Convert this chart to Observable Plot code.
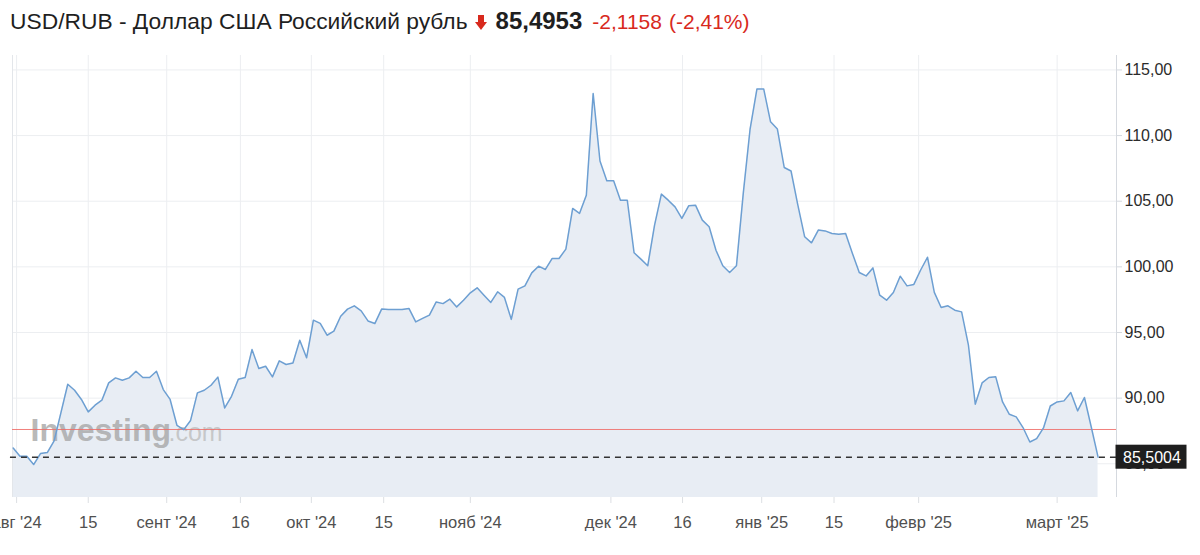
<!DOCTYPE html>
<html>
<head>
<meta charset="utf-8">
<script src="https://cdn.jsdelivr.net/npm/d3@7"></script>
<script src="https://cdn.jsdelivr.net/npm/@observablehq/plot@0.6"></script>
<style>
  html, body { margin: 0; padding: 0; background: #fff; }
  body { width: 1200px; height: 555px; overflow: hidden; font-family: "Liberation Sans", Arial, sans-serif; }
  #title { height: 40px; display: flex; align-items: baseline; padding-left: 10px; box-sizing: border-box; padding-top: 7px; color: #1f1f1f; white-space: nowrap; }
  #title .name { font-size: 22.8px; margin-right: 7px; }
  #title .arrow { margin-right: 9px; position: relative; top: 1px; }
  #title .price { font-size: 24px; font-weight: bold; margin-right: 10px; }
  #title .chg { font-size: 21px; color: #d8291d; margin-right: 7px; }
  #chart svg { display: block; }
</style>
</head>
<body>
<div id="title"></div>
<div id="chart"></div>
<script>
// ---- data ----
const titleText = "USD/RUB - Доллар США Российский рубль";
const lastText = "85,4953";
const changeText = "-2,1158";
const changePctText = "(-2,41%)";

// daily close values, one per trading day (index 0 = first point on the left)
const closes = [
  86.20, 85.57, 85.57, 84.94, 85.78, 85.85, 86.74, 88.90, 91.06, 90.60,
  89.90, 88.95, 89.46, 89.84, 91.16, 91.54, 91.36, 91.54, 92.05, 91.57,
  91.57, 92.05, 90.65, 89.90, 87.93, 87.60, 88.30, 90.40, 90.60, 90.98,
  91.60, 89.25, 90.14, 91.44, 91.57, 93.70, 92.26, 92.43, 91.62, 92.84,
  92.56, 92.68, 94.41, 93.07, 95.94, 95.69, 94.79, 95.10, 96.24, 96.78,
  97.03, 96.65, 95.88, 95.68, 96.78, 96.76, 96.75, 96.75, 96.83, 95.81,
  96.07, 96.32, 97.33, 97.20, 97.54, 96.95, 97.46, 98.02, 98.40, 97.84,
  97.29, 98.10, 97.67, 96.00, 98.30, 98.55, 99.54, 100.05, 99.80, 100.64,
  100.64, 101.35, 104.45, 104.07, 105.46, 113.20, 108.06, 106.56, 106.56, 105.08,
  105.08, 101.07, 100.59, 100.08, 103.18, 105.54, 105.08, 104.57, 103.69, 104.65,
  104.70, 103.56, 103.05, 101.27, 100.08, 99.57, 100.08, 105.60, 110.50, 113.54,
  113.54, 111.05, 110.50, 107.57, 107.30, 104.70, 102.29, 101.83, 102.80, 102.74,
  102.54, 102.49, 102.54, 101.02, 99.57, 99.31, 99.92, 97.84, 97.46, 98.04,
  99.29, 98.55, 98.66, 99.76, 100.73, 98.06, 96.90, 97.03, 96.70, 96.57,
  94.03, 89.54, 91.16, 91.57, 91.62, 89.71, 88.77, 88.57, 87.76, 86.66,
  86.92, 87.73, 89.40, 89.71, 89.79, 90.43, 89.03, 90.05, 87.80, 85.50
];

const prevClose = 87.611;      // red reference line
const lastPrice = 85.5004;     // dashed current-price line
const lastPriceLabel = "85,5004";

const xTickPos = [0.5, 11, 22.5, 33.3, 43.7, 54.3, 67, 87.6, 98.1, 109.7, 120.3, 132.7, 153];
const xTickLabels = ["авг '24", "15", "сент '24", "16", "окт '24", "15", "нояб '24", "дек '24", "16", "янв '25", "15", "февр '25", "март '25"];
const yTicks = [85, 90, 95, 100, 105, 110, 115];

const xDomain = [-0.1, 161.7];
const yDomain = [82.43, 116.1];

// ---- title ----
const t = document.getElementById("title");
t.innerHTML =
  `<span class="name">${titleText}</span>` +
  `<svg class="arrow" width="12" height="15" viewBox="0 0 12 15"><polygon points="3,0 9,0 9,7 12,7 6,15 0,7 3,7" fill="#d8291d"/></svg>` +
  `<span class="price">${lastText}</span>` +
  `<span class="chg">${changeText}</span><span class="chg">${changePctText}</span>`;

// ---- chart ----
const data = closes.map((v, i) => ({i, v}));
const labelOf = new Map(xTickPos.map((p, k) => [p, xTickLabels[k]]));
const fmt = d => d.toFixed(2).replace(".", ",");

function priceBox(index, scales, values, dims) {
  const y = scales.y(lastPrice);
  const x = dims.width - dims.marginRight;
  const g = d3.create("svg:g");
  g.append("rect").attr("x", x - 0.5).attr("y", y - 12).attr("width", 71).attr("height", 24).attr("fill", "#1e1e1e");
  g.append("text").attr("x", x + 7).attr("y", y + 6).attr("fill", "#fff").attr("text-anchor", "start")
    .attr("font-size", 16).attr("font-family", "Liberation Sans, Arial, sans-serif").text(lastPriceLabel);
  return g.node();
}

const chart = Plot.plot({
  width: 1200,
  height: 515,
  marginLeft: 12,
  marginRight: 84,
  marginTop: 15,
  marginBottom: 58,
  style: {fontFamily: "Liberation Sans, Arial, sans-serif", background: "#fff", overflow: "visible"},
  x: {domain: xDomain},
  y: {domain: yDomain},
  marks: [
    Plot.gridY(yTicks, {stroke: "#eceef1", strokeOpacity: 1}),
    Plot.gridX(xTickPos, {stroke: "#eceef1", strokeOpacity: 1}),
    Plot.areaY(data, {x: "i", y1: () => yDomain[0], y2: "v", fill: "#e8edf4"}),
    Plot.ruleX([xDomain[0]], {stroke: "#e3e6ea"}),
    Plot.text(["Investing"], {frameAnchor: "top-left", dx: 18, dy: 385, text: d => d, fontSize: 32, fontWeight: "bold", fill: "#a6a6a6", fillOpacity: 0.8, textAnchor: "start", lineAnchor: "bottom"}),
    Plot.text([".com"], {frameAnchor: "top-left", dx: 156, dy: 385, text: d => d, fontSize: 25, fill: "#bdbdbd", fillOpacity: 0.8, textAnchor: "start", lineAnchor: "bottom"}),
    Plot.ruleY([prevClose], {stroke: "#ef6b66", strokeOpacity: 0.85, strokeWidth: 1}),
    Plot.lineY(data, {x: "i", y: "v", stroke: "#6d9fd2", strokeWidth: 1.5}),
    Plot.ruleY([lastPrice], {stroke: "#333", strokeWidth: 1.4, strokeDasharray: "6,5", x1: xDomain[0] - 0.3, x2: xDomain[1]}),
    Plot.ruleX([xDomain[1]], {stroke: "#d5d9df"}),
    Plot.axisY(yTicks, {anchor: "right", tickSize: 5, tickPadding: 3, tickFormat: fmt, fontSize: 16, fill: "#2b2b2b", stroke: "#d5d9df", label: null}),
    Plot.axisX(xTickPos, {anchor: "bottom", tickSize: 6, tickPadding: 13, tickFormat: d => labelOf.get(d), fontSize: 16.5, fill: "#505050", stroke: "#dcdfe3", label: null}),
    priceBox
  ]
});
document.getElementById("chart").appendChild(chart);
</script>
</body>
</html>
